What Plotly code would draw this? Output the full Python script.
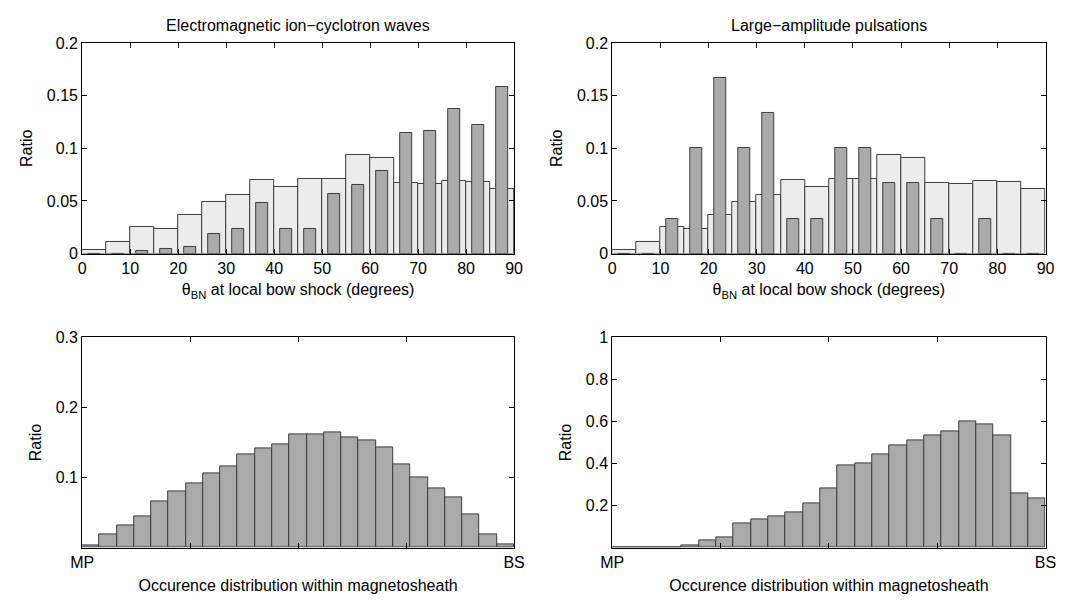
import plotly.graph_objects as go

# ---------------- data ----------------
theta_centers = [2.5, 7.5, 12.5, 17.5, 22.5, 27.5, 32.5, 37.5, 42.5, 47.5,
                 52.5, 57.5, 62.5, 67.5, 72.5, 77.5, 82.5, 87.5]
theta_all = [0.0037, 0.0107, 0.0252, 0.0236, 0.0371, 0.0490, 0.0555, 0.0700, 0.0632,
             0.0709, 0.0709, 0.0933, 0.0905, 0.0675, 0.0662, 0.0690, 0.0681, 0.0613]
theta_emic = [0.0, 0.0, 0.0021, 0.0043, 0.0064, 0.0190, 0.0233, 0.0485, 0.0233,
              0.0233, 0.0570, 0.0653, 0.0780, 0.1142, 0.1163, 0.1372, 0.1225, 0.1582]
theta_lap = [0.0, 0.0, 0.0333, 0.1000, 0.1667, 0.1000, 0.1333, 0.0333, 0.0333,
             0.1000, 0.1000, 0.0667, 0.0667, 0.0333, 0.0, 0.0333, 0.0, 0.0]

sheath_centers = [0.5 + i for i in range(25)]
sheath_emic = [0.0028, 0.0190, 0.0320, 0.0444, 0.0653, 0.0806, 0.0917, 0.1056, 0.1157,
               0.1325, 0.1410, 0.1472, 0.1614, 0.1614, 0.1647, 0.1572, 0.1535, 0.1428,
               0.1188, 0.1000, 0.0847, 0.0713, 0.0468, 0.0185, 0.0042]
sheath_lap = [0.0, 0.0, 0.0, 0.0, 0.0092, 0.0320, 0.0490, 0.1170, 0.1340, 0.1490,
              0.1660, 0.2080, 0.2830, 0.3920, 0.4000, 0.4415, 0.4846, 0.5080, 0.5340,
              0.5510, 0.6015, 0.5846, 0.5350, 0.2570, 0.2320]

titles = ["Electromagnetic ion−cyclotron waves", "Large−amplitude pulsations"]
theta_ticks = [0, 10, 20, 30, 40, 50, 60, 70, 80, 90]
ratio_ticks_top = [0, 0.05, 0.1, 0.15, 0.2]
ratio_ticks_top_text = ["0", "0.05", "0.1", "0.15", "0.2"]
ratio_ticks_bl = [0.1, 0.2, 0.3]
ratio_ticks_bl_text = ["0.1", "0.2", "0.3"]
ratio_ticks_br = [0.2, 0.4, 0.6, 0.8, 1.0]
ratio_ticks_br_text = ["0.2", "0.4", "0.6", "0.8", "1"]
sheath_ticks = [0, 25]
sheath_ticks_text = ["MP", "BS"]
sheath_minor_step = 6.25

# ---------------- style ----------------
FONT = "Liberation Sans, Arial, Helvetica, sans-serif"
FS = 16
LIGHT = "#ececec"
DARK = "#aaaaaa"
EDGE = "#3c3c3c"

W, H = 1081, 601
xl = [71.7 / W, 513.0 / W]
xr = [613.3 / W, 1056.0 / W]
yt = [1 - 252.7 / H, 1 - 36.0 / H]
yb = [1 - 555.3 / H, 1 - 339.0 / H]

fig = go.Figure()

def bar(x, y, width, color, xa, ya):
    return go.Bar(x=x, y=y, width=width, xaxis=xa, yaxis=ya,
                  marker=dict(color=color, line=dict(color=EDGE, width=1)),
                  opacity=1, showlegend=False, hoverinfo="x+y")

fig.add_trace(bar(theta_centers, theta_all, 5, LIGHT, "x", "y"))
fig.add_trace(bar(theta_centers, theta_emic, 2.5, DARK, "x", "y"))
fig.add_trace(bar(theta_centers, theta_all, 5, LIGHT, "x2", "y2"))
fig.add_trace(bar(theta_centers, theta_lap, 2.5, DARK, "x2", "y2"))
fig.add_trace(bar(sheath_centers, sheath_emic, 1, DARK, "x3", "y3"))
fig.add_trace(bar(sheath_centers, sheath_lap, 1, DARK, "x4", "y4"))

common = dict(showline=True, linecolor="black", linewidth=1, mirror="ticks",
              ticks="inside", ticklen=5, tickcolor="black", tickwidth=1,
              showgrid=False, zeroline=False,
              tickfont=dict(family=FONT, size=FS, color="black"))

minor_sheath = dict(tick0=0, dtick=sheath_minor_step, ticks="inside", ticklen=5,
                    tickwidth=1, tickcolor="black", showgrid=False)

xtitle_theta = dict(text="θ<sub>BN</sub> at local bow shock (degrees)",
                    font=dict(family=FONT, size=FS, color="black"), standoff=8)
xtitle_sheath = dict(text="Occurence distribution within magnetosheath",
                     font=dict(family=FONT, size=FS, color="black"), standoff=10)
ytitle = dict(text="Ratio", font=dict(family=FONT, size=FS, color="black"), standoff=10)

fig.update_layout(
    width=W, height=H,
    margin=dict(l=0, r=0, t=0, b=0),
    paper_bgcolor="white", plot_bgcolor="white",
    barmode="overlay", bargap=0,
    xaxis=dict(domain=xl, anchor="y", range=[0, 90], tickvals=theta_ticks,
               title=xtitle_theta, **common),
    yaxis=dict(domain=yt, anchor="x", range=[0, 0.2], tickvals=ratio_ticks_top,
               ticktext=ratio_ticks_top_text, title=ytitle, **common),
    xaxis2=dict(domain=xr, anchor="y2", range=[0, 90], tickvals=theta_ticks,
                title=xtitle_theta, **common),
    yaxis2=dict(domain=yt, anchor="x2", range=[0, 0.2], tickvals=ratio_ticks_top,
                ticktext=ratio_ticks_top_text, title=ytitle, **common),
    xaxis3=dict(domain=xl, anchor="y3", range=[0, 25], tickvals=sheath_ticks,
                ticktext=sheath_ticks_text, title=xtitle_sheath,
                minor=minor_sheath, **common),
    yaxis3=dict(domain=yb, anchor="x3", range=[0, 0.3], tickvals=ratio_ticks_bl,
                ticktext=ratio_ticks_bl_text, title=ytitle, **common),
    xaxis4=dict(domain=xr, anchor="y4", range=[0, 25], tickvals=sheath_ticks,
                ticktext=sheath_ticks_text, title=xtitle_sheath,
                minor=minor_sheath, **common),
    yaxis4=dict(domain=yb, anchor="x4", range=[0, 1], tickvals=ratio_ticks_br,
                ticktext=ratio_ticks_br_text, title=ytitle, **common),
)

for i, t in enumerate(titles):
    dom = xl if i == 0 else xr
    fig.add_annotation(text=t, x=(dom[0] + dom[1]) / 2, y=1 - 18 / H,
                       xref="paper", yref="paper", showarrow=False,
                       xanchor="center", yanchor="middle",
                       font=dict(family=FONT, size=FS, color="black"))

fig.write_html("out.html")
